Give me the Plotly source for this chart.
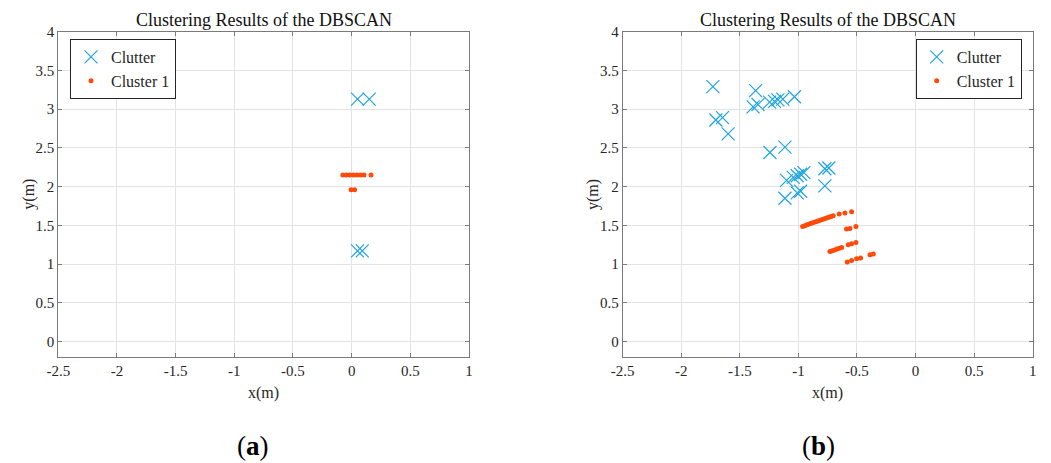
import plotly.graph_objects as go

# ---- data (a) ----
a_clutter_x = [0.05, 0.15, 0.05, 0.09]
a_clutter_y = [3.13, 3.13, 1.17, 1.17]
a_cluster_x = [-0.075, -0.045, -0.015, 0.015, 0.045, 0.075, 0.105, 0.165, -0.005, 0.025]
a_cluster_y = [2.15, 2.15, 2.15, 2.15, 2.15, 2.15, 2.15, 2.15, 1.96, 1.96]

# ---- data (b) ----
b_clutter_x = [-1.73, -1.365, -1.387, -1.345, -1.246, -1.204, -1.175, -1.133, -1.034,
               -1.705, -1.648, -1.60, -1.243, -1.115,
               -1.101, -1.044, -1.010, -0.981, -0.953,
               -0.774, -0.740, -0.774, -1.115, -1.010, -0.981]
b_clutter_y = [3.29, 3.24, 3.03, 3.06, 3.09, 3.10, 3.12, 3.13, 3.16,
               2.86, 2.89, 2.68, 2.44, 2.51,
               2.08, 2.12, 2.14, 2.16, 2.18,
               2.23, 2.24, 2.01, 1.85, 1.92, 1.94]
b_cluster_x = [-0.964, -0.945, -0.927, -0.908, -0.889, -0.871, -0.852, -0.834, -0.815,
               -0.796, -0.778, -0.759, -0.740, -0.722, -0.703,
               -0.652, -0.603, -0.546,
               -0.589, -0.560, -0.509,
               -0.731, -0.711, -0.691, -0.671, -0.651, -0.631,
               -0.575, -0.546, -0.509,
               -0.583, -0.546, -0.503, -0.469,
               -0.389, -0.361]
b_cluster_y = [1.486, 1.496, 1.506, 1.516, 1.526, 1.535, 1.545, 1.555, 1.565,
               1.575, 1.585, 1.594, 1.604, 1.614, 1.624,
               1.646, 1.659, 1.676,
               1.452, 1.460, 1.486,
               1.163, 1.173, 1.183, 1.194, 1.204, 1.214,
               1.249, 1.262, 1.279,
               1.026, 1.047, 1.068, 1.078,
               1.120, 1.129]

x_ticks = [-2.5, -2, -1.5, -1, -0.5, 0, 0.5, 1]
x_tick_text = ["-2.5", "-2", "-1.5", "-1", "-0.5", "0", "0.5", "1"]
y_ticks = [0, 0.5, 1, 1.5, 2, 2.5, 3, 3.5, 4]
y_tick_text = ["0", "0.5", "1", "1.5", "2", "2.5", "3", "3.5", "4"]

BLUE = "#1ea5e0"
ORANGE = "#ff4a0a"
FONT = "Liberation Serif"
TXT = "#262626"

fig = go.Figure()

def add_panel(cx, cy, kx, ky, xa, ya, legend):
    fig.add_trace(go.Scatter(x=cx, y=cy, mode="markers", name="Clutter",
                             marker=dict(symbol="x-thin-open", size=13, color=BLUE,
                                         line=dict(width=1.2, color=BLUE)),
                             xaxis=xa, yaxis=ya, legend=legend))
    fig.add_trace(go.Scatter(x=kx, y=ky, mode="markers", name="Cluster 1",
                             marker=dict(symbol="circle", size=5, color=ORANGE),
                             xaxis=xa, yaxis=ya, legend=legend))

add_panel(a_clutter_x, a_clutter_y, a_cluster_x, a_cluster_y, "x", "y", "legend")
add_panel(b_clutter_x, b_clutter_y, b_cluster_x, b_cluster_y, "x2", "y2", "legend2")

W, H = 1051, 463
ydom = [1 - 357 / H, 1 - 31.7 / H]
xdom1 = [58.3 / W, 469 / W]
xdom2 = [622.7 / W, 1032.7 / W]

axis_common = dict(showgrid=True, gridcolor="#e3e3e3", gridwidth=1, automargin=False,
                   showline=True, linecolor="#7a7a7a", linewidth=1, mirror="allticks",
                   ticks="inside", ticklen=4, tickcolor="#7a7a7a", zeroline=False,
                   tickfont=dict(family=FONT, size=15, color=TXT))

xcommon = dict(axis_common, range=[-2.5, 1], tickvals=x_ticks, ticktext=x_tick_text)
ycommon = dict(axis_common, range=[-0.2, 4], tickvals=y_ticks, ticktext=y_tick_text)

legend_common = dict(bgcolor="white", bordercolor=TXT, borderwidth=1,
                     font=dict(family=FONT, size=16, color=TXT),
                     yanchor="top", tracegroupgap=0, itemwidth=30)

def ann(text, x, y, size, color=TXT, angle=0):
    return dict(text=text, x=x, y=y, xref="paper", yref="paper", showarrow=False,
                xanchor="center", yanchor="middle", textangle=angle,
                font=dict(family=FONT, size=size, color=color))

annotations = []
for dom, lab_x, lab in [(xdom1, 253, "(<b>a</b>)"), (xdom2, 818, "(<b>b</b>)")]:
    cx = (dom[0] + dom[1]) / 2
    annotations.append(ann("Clustering Results of the DBSCAN", cx, 1 - 20 / H, 18, "#111111"))
    annotations.append(ann("x(m)", cx, 1 - 393 / H, 16))
    annotations.append(ann("y(m)", dom[0] - 29 / W, (ydom[0] + ydom[1]) / 2, 16, angle=-90))
    annotations.append(ann(lab, lab_x / W, 1 - 446 / H, 27, "black"))

fig.update_layout(
    width=W, height=H, margin=dict(l=0, r=0, t=0, b=0, autoexpand=False),
    paper_bgcolor="white", plot_bgcolor="white",
    xaxis=dict(xcommon, domain=xdom1, anchor="y"),
    yaxis=dict(ycommon, domain=ydom, anchor="x"),
    xaxis2=dict(xcommon, domain=xdom2, anchor="y2"),
    yaxis2=dict(ycommon, domain=ydom, anchor="x2"),
    legend=dict(legend_common, x=70 / W, xanchor="left", y=1 - 39 / H),
    legend2=dict(legend_common, x=1021.7 / W, xanchor="right", y=1 - 39 / H),
    showlegend=True,
    annotations=annotations,
)

fig.write_html("out.html")
